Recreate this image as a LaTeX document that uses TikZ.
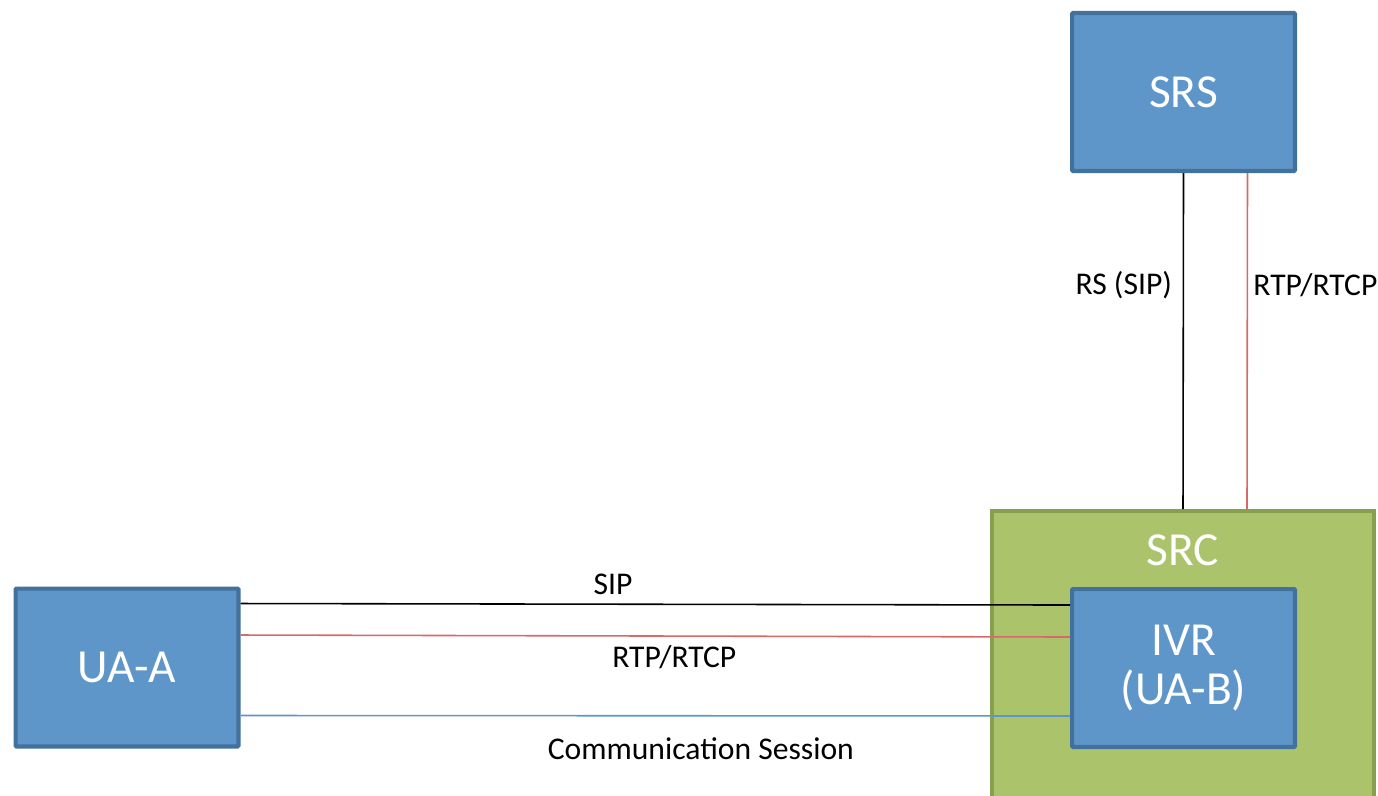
\documentclass[tikz,border=0pt]{standalone}
\usepackage{fontspec}
\setmainfont{Carlito}
\definecolor{boxblue}{HTML}{5F96C9}
\definecolor{edgeblue}{HTML}{41719C}
\definecolor{boxgreen}{HTML}{ABC46C}
\definecolor{edgegreen}{HTML}{86A04E}
\definecolor{rtpred}{HTML}{D46A6A}
\definecolor{sessblue}{HTML}{5F96C9}
\begin{document}
\begin{tikzpicture}[x=0.02cm, y=-0.02cm,
    bluebox/.style={draw=edgeblue, fill=boxblue, line width=2.3pt, rounded corners=0.5pt,
      minimum width=4.46cm, minimum height=3.16cm, text=white, font=\fontsize{27}{30}\selectfont, align=center},
    greenbox/.style={draw=edgegreen, fill=boxgreen, line width=2.3pt,
      minimum width=7.64cm, minimum height=6.6cm},
    sig/.style={black, line width=0.9pt},
    rtp/.style={rtpred, line width=0.9pt},
    sess/.style={sessblue, line width=0.9pt},
    lbl/.style={text=black, font=\fontsize{18}{20}\selectfont, inner sep=0pt}]
\useasboundingbox (0,0) rectangle (1378,795);
% boxes
\node[bluebox] (srs) at (1183.5,92) {SRS};
\node[greenbox, anchor=north] (src) at (1183,509) {};
\node[text=white, font=\fontsize{27}{30}\selectfont] (srctxt) at (1183,550) {SRC};
\node[bluebox] (ivr) at (1183.5,668) {IVR\\[-2pt](UA-B)};
\node[bluebox] (uaa) at (127,667.5) {UA-A};
% SRS -- SRC
\draw[sig] (srs.south) -- (src.north) node[lbl, pos=0.335, left=6pt] {RS (SIP)};
\draw[rtp] ([xshift=1.28cm]srs.south) -- ([xshift=1.28cm]src.north) node[lbl, pos=0.335, right=3pt] {RTP/RTCP};
% UA-A -- IVR
\draw[sig] ([yshift=1.28cm]uaa.east) -- ([yshift=1.26cm]ivr.west) node[lbl, pos=0.449, above=5pt] {SIP};
\draw[rtp] ([yshift=0.65cm]uaa.east) -- ([yshift=0.62cm]ivr.west) node[lbl, pos=0.523, below=5pt] {RTP/RTCP};
\draw[sess] ([yshift=-0.96cm]uaa.east) -- ([yshift=-0.96cm]ivr.west) node[lbl, pos=0.555, below=12pt] {Communication Session};
\end{tikzpicture}
\end{document}
